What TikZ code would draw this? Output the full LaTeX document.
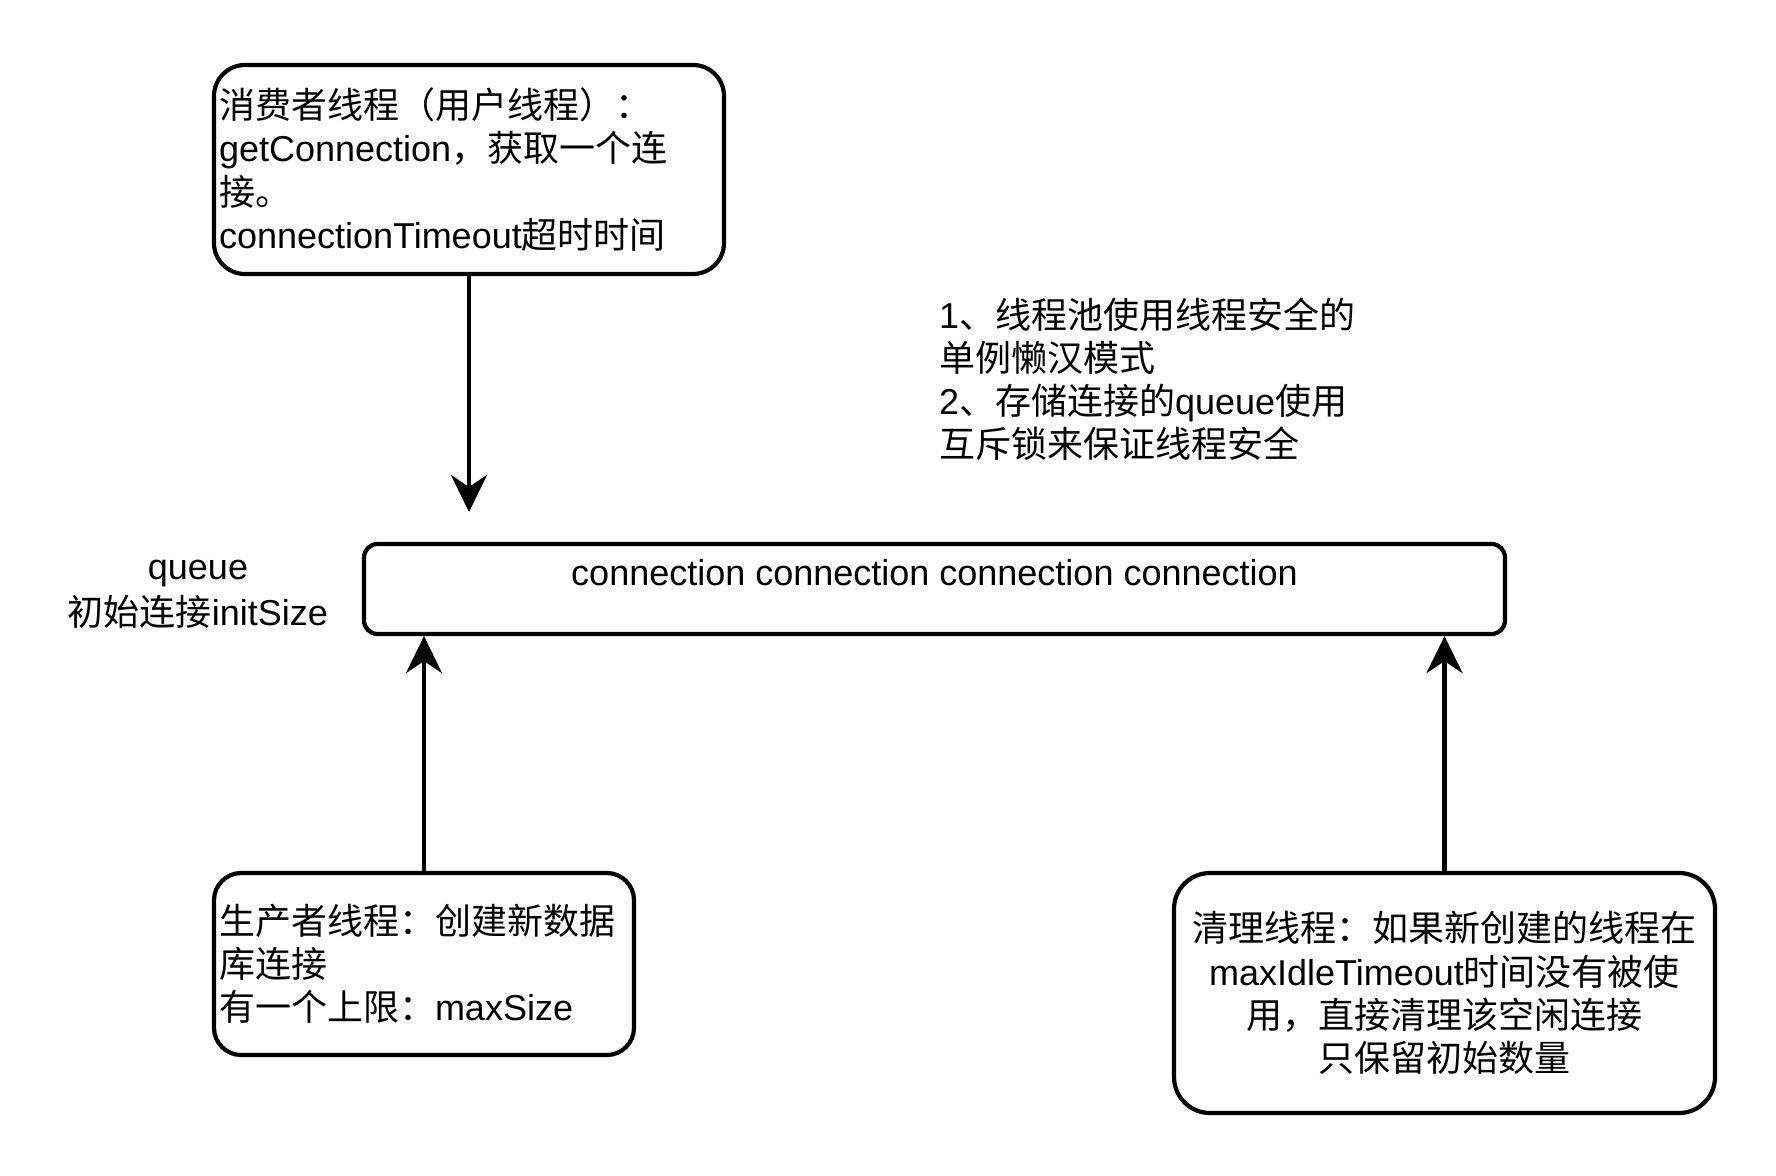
\documentclass[tikz,border=0pt]{standalone}
\usepackage{fontspec}
\setmainfont{Liberation Sans}
\newfontfamily\cjk{Noto Sans CJK SC}
\usetikzlibrary{arrows.meta}
\newcommand{\zh}[1]{{\cjk #1}}
\begin{document}
\begin{tikzpicture}[x=0.5pt,y=-0.5pt,
  box/.style={draw, line width=2.1pt, inner sep=2.5pt},
  txt/.style={font=\fontsize{18pt}{21.6pt}\selectfont},
  conn/.style={line width=2.1pt, -{Stealth[length=18.5pt,width=18pt,inset=6pt]}}]
\useasboundingbox[fill=white] (0,0) rectangle (1776,1176);

\node[box,rounded corners=15.5pt,txt,minimum width=255pt,minimum height=104.5pt,text width=250pt,align=left] (cons) at (469,169.5)
  {\zh{消费者线程（用户线程）：}\\getConnection\zh{，获取一个连}\\\zh{接。}\\connectionTimeout\zh{超时时间}};
\coordinate (tip) at (469,512);
\draw[conn] (cons.south) -- (tip);

\node[txt,align=left,anchor=west] (notes) at (932,379)
  {1\zh{、线程池使用线程安全的}\\\zh{单例懒汉模式}\\2\zh{、存储连接的}queue\zh{使用}\\\zh{互斥锁来保证线程安全}};

\node[box,rounded corners=6.75pt,minimum width=570.5pt,minimum height=45pt] (queue) at (934.5,589) {};
\node[txt] (qtxt) at (934.5,573) {connection connection connection connection};
\node[font=\fontsize{18pt}{23pt}\selectfont,align=center] (qlabel) at (198,594) {queue\\\zh{初始连接}initSize};

\node[box,rounded corners=13.6pt,txt,minimum width=210pt,minimum height=91pt,text width=205pt,align=left] (prod) at (424,964)
  {\zh{生产者线程：创建新数据}\\\zh{库连接}\\\zh{有一个上限：}maxSize};
\draw[conn] (prod.north) -- (queue.south -| prod.north);

\node[box,rounded corners=18pt,txt,minimum width=270.5pt,minimum height=120pt,align=center] (clean) at (1444.5,993)
  {\zh{清理线程：如果新创建的线程在}\\maxIdleTimeout\zh{时间没有被使}\\\zh{用，直接清理该空闲连接}\\\zh{只保留初始数量}};
\draw[conn] (clean.north) -- (queue.south -| clean.north);
\end{tikzpicture}
\end{document}
